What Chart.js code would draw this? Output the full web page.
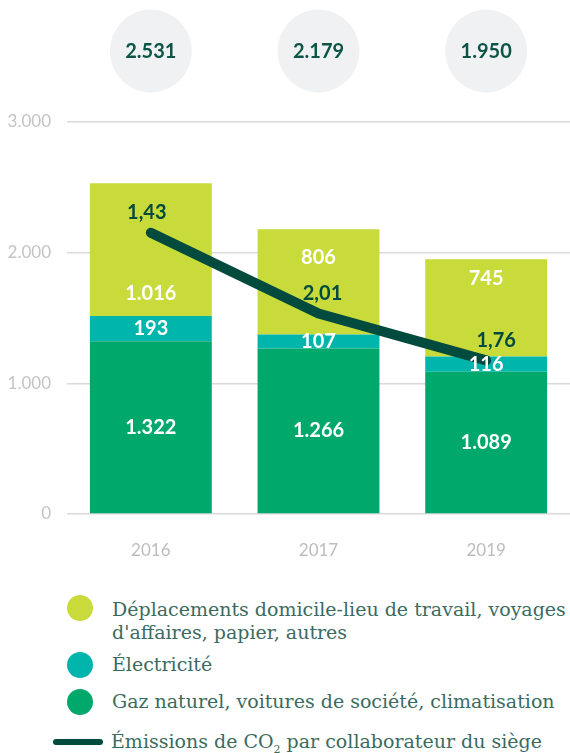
<!DOCTYPE html>
<html>
<head>
<meta charset="utf-8">
<script src="https://cdn.jsdelivr.net/npm/chart.js@4/dist/chart.umd.min.js"></script>
<style>
    body { margin: 0; background: #fff; width: 570px; height: 753px; overflow: hidden; position: relative; }
    #wrap { position: absolute; left: 0; top: 0; width: 570px; height: 583px; }
    .legend-item { position: absolute; left: 0; font-family: "DejaVu Serif", serif; font-size: 19px; color: #3b6b5f; line-height: 23px; }
    .legend-item .dot { position: absolute; left: 67px; width: 26px; height: 26px; border-radius: 50%; }
    .legend-item .bar { position: absolute; left: 53px; width: 50px; height: 6px; border-radius: 3px; }
    .legend-item .txt { position: absolute; left: 112px; white-space: nowrap; }
</style>
</head>
<body>
<div id="wrap"><canvas id="chart"></canvas></div>
<div id="legend"></div>
<script>
const YEARS = ["2016", "2017", "2019"];
const GAS = [1322, 1266, 1089];
const ELEC = [193, 107, 116];
const TRAVEL = [1016, 806, 745];
const TOTALS = [2531, 2179, 1950];
// line is drawn on the left axis where the picture puts it; its labels are separate
const EMISSION_LINE = [2153, 1534, 1176];
const EMISSION_LABELS = ["1,43", "2,01", "1,76"];
const Y_TICKS = [0, 1000, 2000, 3000];

const SERIES_NAMES = [
    "Déplacements domicile-lieu de travail, voyages\nd'affaires, papier, autres",
    "Électricité",
    "Gaz naturel, voitures de société, climatisation",
];

const COLORS = {
    travel: "#c8db3b",
    elec: "#00b6ac",
    gas: "#00a96b",
    line: "#004a3e",
    dark: "#0b5446",
    circle: "#f0f1f3",
};

function fmt(v) {
    return String(v).replace(/\B(?=(\d{3})+(?!\d))/g, ".");
}

// where the label of the travel segment sits, as fraction from the top of the segment
const TRAVEL_LABEL_POS = [0.83, 0.27, 0.2];

const labelPlugin = {
    id: "labels",
    afterDatasetsDraw(chart) {
        const ctx = chart.ctx;
        ctx.save();
        ctx.textAlign = "center";
        ctx.textBaseline = "middle";

        // bar segment labels
        ctx.font = "bold 20px Lato";
        ctx.fillStyle = "#fff";
        [0, 1, 2].forEach((di) => {
            const meta = chart.getDatasetMeta(di);
            meta.data.forEach((bar, i) => {
                const val = chart.data.datasets[di].data[i];
                let ty = (bar.y + bar.base) / 2;
                if (di === 2) ty = bar.y + (bar.base - bar.y) * TRAVEL_LABEL_POS[i];
                ctx.fillText(fmt(val), bar.x, ty);
            });
        });

        // line labels
        const lineMeta = chart.getDatasetMeta(3);
        ctx.fillStyle = COLORS.line;
        lineMeta.data.forEach((pt, i) => {
            const dx = i === 2 ? 10 : (i === 0 ? -4 : 4);
            ctx.fillText(EMISSION_LABELS[i], pt.x + dx, pt.y - 20);
        });

        // total circles above the plot
        const meta0 = chart.getDatasetMeta(0);
        meta0.data.forEach((bar, i) => {
            ctx.fillStyle = COLORS.circle;
            ctx.beginPath();
            ctx.ellipse(bar.x, 51, 41, 41.5, 0, 0, Math.PI * 2);
            ctx.fill();
            ctx.fillStyle = COLORS.dark;
            ctx.fillText(fmt(TOTALS[i]), bar.x, 52);
        });
        ctx.restore();
    },
};

const ctx = document.getElementById("chart").getContext("2d");
new Chart(ctx, {
    data: {
        labels: YEARS,
        datasets: [
            { type: "bar", label: "gas", data: GAS, backgroundColor: COLORS.gas, order: 2 },
            { type: "bar", label: "elec", data: ELEC, backgroundColor: COLORS.elec, order: 2 },
            { type: "bar", label: "travel", data: TRAVEL, backgroundColor: COLORS.travel, order: 2 },
            {
                type: "line",
                label: "co2",
                data: EMISSION_LINE,
                stack: "line",
                borderColor: COLORS.line,
                borderWidth: 10,
                borderCapStyle: "round",
                borderJoinStyle: "round",
                pointRadius: 0,
                tension: 0,
                order: 1,
            },
        ],
    },
    options: {
        responsive: true,
        maintainAspectRatio: false,
        animation: false,
        datasets: { bar: { barPercentage: 0.727, categoryPercentage: 1 } },
        layout: { padding: { top: 122, right: 0, left: 0, bottom: 0 } },
        plugins: { legend: { display: false }, tooltip: { enabled: false } },
        scales: {
            x: {
                stacked: true,
                afterFit: (s) => { s.height = 69; },
                grid: { display: false, drawTicks: false },
                border: { display: false },
                ticks: { color: "#bdbdbd", font: { family: "Lato", size: 17 }, padding: 26 },
            },
            y: {
                stacked: true,
                min: 0,
                max: 3000,
                afterFit: (s) => { s.width = 67; },
                afterBuildTicks: (s) => { s.ticks = Y_TICKS.map((v) => ({ value: v })); },
                grid: { color: "#dadada", lineWidth: 1.5, drawTicks: false },
                border: { display: false },
                ticks: {
                    color: "#c4c4c4",
                    font: { family: "Lato", size: 17 },
                    padding: 16,
                    callback: (v) => fmt(v),
                },
            },
        },
    },
    plugins: [labelPlugin],
});

const legend = document.getElementById("legend");
const LEGEND_ROWS = [
    { color: COLORS.travel, top: 598, dotTop: 595 },
    { color: COLORS.elec, top: 653, dotTop: 652 },
    { color: COLORS.gas, top: 690, dotTop: 689 },
];
LEGEND_ROWS.forEach((r, i) => {
    const el = document.createElement("div");
    el.className = "legend-item";
    el.style.top = r.top + "px";
    el.innerHTML = `<span class="dot" style="top:${r.dotTop - r.top}px;background:${r.color}"></span>` +
        `<span class="txt">${SERIES_NAMES[i].replace("\n", "<br>")}</span>`;
    legend.appendChild(el);
});
const lineItem = document.createElement("div");
lineItem.className = "legend-item";
lineItem.style.top = "730px";
lineItem.innerHTML = `<span class="bar" style="top:9px;background:${COLORS.line}"></span>` +
    `<span class="txt" style="left:111px">Émissions de CO<sub style="font-size:11px">2</sub> par collaborateur du siège</span>`;
legend.appendChild(lineItem);
</script>
</body>
</html>
